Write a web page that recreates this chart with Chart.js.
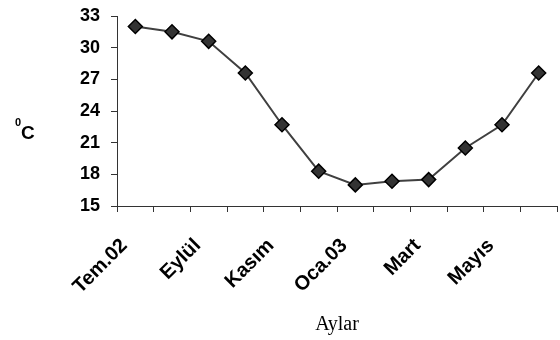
<!DOCTYPE html>
<html>
<head>
<meta charset="utf-8">
<script src="https://cdn.jsdelivr.net/npm/chart.js@4"></script>
<style>
  html, body { margin: 0; padding: 0; background: #fff; }
  #wrap { width: 560px; height: 340px; }
</style>
</head>
<body>
<div id="wrap"><canvas id="c"></canvas></div>
<script>
var months = ["Tem.02", "Ağustos", "Eylül", "Ekim", "Kasım", "Aralık",
              "Oca.03", "Şubat", "Mart", "Nisan", "Mayıs", "Haziran"];
var temps = [32.0, 31.5, 30.6, 27.6, 22.7, 18.3, 17.0, 17.35, 17.5, 20.5, 22.7, 27.6];
var yTicks = [15, 18, 21, 24, 27, 30, 33];

// y axis title drawn flat, with the small raised 0
var degreeTitle = {
  id: 'degreeTitle',
  afterDraw: function(chart){
    var ctx = chart.ctx;
    ctx.save();
    ctx.fillStyle = '#000';
    ctx.textBaseline = 'alphabetic';
    ctx.textAlign = 'left';
    ctx.font = 'bold 11px "Liberation Sans", Arial, sans-serif';
    ctx.fillText('0', 15, 126);
    ctx.font = 'bold 19px "Liberation Sans", Arial, sans-serif';
    ctx.fillText('C', 21, 139);
    ctx.restore();
  }
};

var fontFamily = '"Liberation Sans", Arial, sans-serif';

new Chart(document.getElementById('c').getContext('2d'), {
  type: 'line',
  data: {
    labels: months,
    datasets: [{
      data: temps,
      borderColor: '#404040',
      borderWidth: 2,
      pointStyle: 'rectRot',
      pointRadius: 7,
      pointHoverRadius: 7,
      pointBackgroundColor: '#333333',
      pointBorderColor: '#000000',
      pointBorderWidth: 1.5,
      tension: 0
    }]
  },
  options: {
    responsive: true,
    maintainAspectRatio: false,
    animation: false,
    layout: { autoPadding: false, padding: { top: 16, right: 3, left: 0, bottom: 3 } },
    plugins: {
      legend: { display: false },
      tooltip: { enabled: false }
    },
    scales: {
      x: {
        offset: true,
        afterFit: function(s){ s.height = 131; s.paddingLeft = 0; s.paddingRight = 0; },
        grid: { offset: true, drawOnChartArea: false, drawTicks: true, tickLength: 6, color: '#333' },
        border: { display: true, color: '#333', width: 1 },
        ticks: {
          autoSkip: false,
          maxRotation: 45,
          minRotation: 45,
          color: '#000',
          font: { family: fontFamily, size: 20, weight: 'bold' },
          padding: 22,
          labelOffset: -11,
          callback: function(v, i){ return i % 2 === 0 ? months[i] : ''; }
        },
        title: {
          display: true,
          text: 'Aylar',
          color: '#000',
          font: { family: '"Liberation Serif", "Times New Roman", serif', size: 20 },
          padding: { top: 4, bottom: 0 }
        }
      },
      y: {
        min: 15,
        max: 33,
        afterFit: function(s){ s.width = 117; s.paddingTop = 0; s.paddingBottom = 0; },
        afterBuildTicks: function(s){ s.ticks = yTicks.map(function(v){ return { value: v }; }); },
        grid: { drawOnChartArea: false, drawTicks: true, tickLength: 6, color: '#333' },
        border: { display: true, color: '#333', width: 1 },
        ticks: { color: '#000', font: { family: fontFamily, size: 18, weight: 'bold' }, padding: 11 }
      }
    }
  },
  plugins: [degreeTitle]
});
</script>
</body>
</html>
